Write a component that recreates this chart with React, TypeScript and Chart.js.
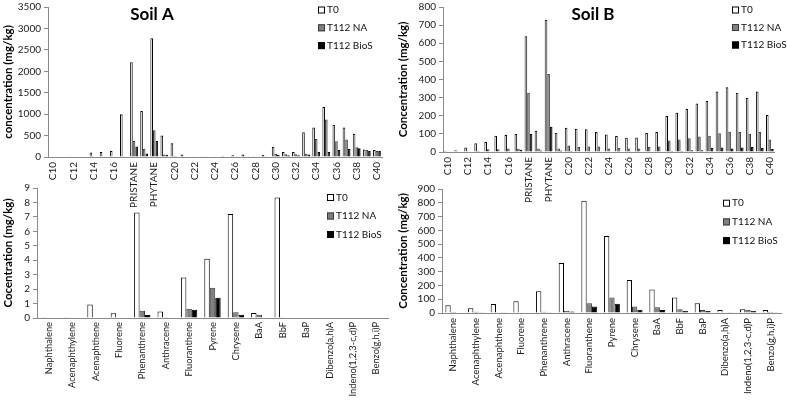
import React, { useRef, useEffect } from 'react';
import { Chart, registerables } from 'chart.js';

Chart.register(...registerables);

const FONT = 'Lato, "Noto Sans", sans-serif';

// n-alkanes + isoprenoids
const alkaneLabels = [
  'C10', 'C11', 'C12', 'C13', 'C14', 'C15', 'C16', 'C17', 'PRISTANE', 'C18', 'PHYTANE',
  'C19', 'C20', 'C21', 'C22', 'C23', 'C24', 'C25', 'C26', 'C27', 'C28', 'C29', 'C30',
  'C31', 'C32', 'C33', 'C34', 'C35', 'C36', 'C37', 'C38', 'C39', 'C40',
];

const soilA_T0 = [0, 0, 5, 5, 107, 115, 138, 997, 2210, 1074, 2770, 499, 322, 60, 20, 20, 10, 23, 38, 60, 15, 46, 240, 115, 115, 578, 690, 1167, 752, 690, 545, 177, 161];
const soilA_NA = [0, 0, 0, 0, 5, 5, 10, 20, 376, 192, 622, 61, 23, 10, 5, 5, 5, 10, 10, 10, 10, 20, 77, 62, 62, 77, 422, 875, 368, 407, 230, 161, 138];
const soilA_BioS = [0, 0, 0, 0, 0, 0, 0, 10, 245, 84, 376, 54, 15, 0, 0, 0, 0, 0, 5, 5, 5, 10, 54, 38, 38, 61, 115, 115, 161, 192, 207, 138, 138];

const soilB_T0 = [7, 10, 25, 48, 55, 90, 94, 100, 639, 117, 729, 106, 134, 128, 126, 110, 97, 88, 78, 80, 105, 110, 199, 217, 237, 267, 282, 334, 357, 327, 300, 334, 204];
const soilB_NA = [0, 0, 2, 5, 15, 15, 20, 18, 327, 20, 430, 20, 36, 27, 30, 30, 20, 23, 20, 20, 27, 30, 63, 69, 76, 85, 90, 103, 112, 110, 101, 110, 69];
const soilB_BioS = [0, 0, 0, 0, 0, 3, 3, 12, 99, 8, 140, 8, 5, 3, 3, 3, 3, 3, 3, 3, 3, 3, 5, 5, 9, 9, 23, 25, 20, 25, 27, 22, 16];

// PAHs
const pahLabels = [
  'Naphthalene', 'Acenaphthylene', 'Acenaphthene', 'Fluorene', 'Phenanthrene', 'Anthracene',
  'Fluoranthene', 'Pyrene', 'Chrysene', 'BaA', 'BbF', 'BaP', 'Dibenzo(a,h)A',
  'Indeno(1,2,3-c,d)P', 'Benzo(g,h,i)P',
];

const pahA_T0 = [0.05, 0.05, 0.93, 0.33, 7.3, 0.45, 2.8, 4.1, 7.2, 0.35, 8.35, 0.03, 0, 0, 0];
const pahA_NA = [0.03, 0, 0, 0, 0.5, 0.02, 0.64, 2.1, 0.4, 0.22, 0.02, 0, 0, 0, 0];
const pahA_BioS = [0, 0, 0, 0, 0.2, 0, 0.57, 1.4, 0.23, 0, 0, 0, 0, 0, 0];

const pahB_T0 = [57, 35, 66, 85, 158, 363, 814, 559, 240, 170, 113, 71, 21, 28, 21];
const pahB_NA = [7, 9, 3, 4, 9, 14, 71, 113, 47, 42, 28, 21, 3, 24, 9];
const pahB_BioS = [4, 2, 2, 4, 6, 10, 47, 68, 24, 21, 14, 14, 2, 14, 6];

const seriesNames = ['T0', 'T112 NA', 'T112 BioS'];
const seriesFill = ['#ffffff', '#808080', '#000000'];
const seriesLine = ['#000000', '#3a3a3a', '#000000'];

// draws the panel title and the little legend block inside the plot
const overlayPlugin = {
  id: 'overlay',
  afterDraw(chart: any, _args: any, opts: any) {
    const { ctx } = chart;
    ctx.save();
    if (opts.title) {
      ctx.font = `bold 17px ${FONT}`;
      ctx.fillStyle = '#000';
      ctx.textAlign = 'center';
      ctx.textBaseline = 'alphabetic';
      ctx.fillText(opts.title, opts.titleX, opts.titleY);
    }
    chart.data.datasets.forEach((ds: any, i: number) => {
      const y = opts.legendY + i * opts.legendGap;
      const x = opts.legendX;
      ctx.fillStyle = ds.backgroundColor;
      ctx.fillRect(x, y - 3, 7, 7);
      ctx.strokeStyle = ds.borderColor;
      ctx.lineWidth = 1;
      ctx.strokeRect(x + 0.5, y - 2.5, 6, 6);
      ctx.fillStyle = '#111';
      ctx.font = `10px ${FONT}`;
      ctx.textAlign = 'left';
      ctx.textBaseline = 'middle';
      ctx.fillText(ds.label, x + 9, y + 0.5);
    });
    ctx.restore();
  },
};

interface PanelProps {
  labels: string[];
  values: number[][];
  yMax: number;
  yStep: number;
  yTitle: string;
  yWidth: number;
  xHeight: number;
  padRight: number;
  everyOther: boolean;
  catPct: number;
  labelSize: number;
  labelPad: number;
  overlay: any;
}

const Panel: React.FC<PanelProps> = (p) => {
  const chartRef = useRef<HTMLCanvasElement>(null);
  const chartInstance = useRef<Chart | null>(null);

  useEffect(() => {
    if (!chartRef.current) return;
    if (chartInstance.current) chartInstance.current.destroy();

    chartInstance.current = new Chart(chartRef.current, {
      type: 'bar',
      data: {
        labels: p.labels,
        datasets: p.values.map((vals, i) => ({
          label: seriesNames[i],
          data: vals,
          backgroundColor: seriesFill[i],
          borderColor: seriesLine[i],
          borderWidth: 1,
          categoryPercentage: p.catPct,
          barPercentage: 1.0,
        })),
      },
      options: {
        responsive: true,
        maintainAspectRatio: false,
        animation: false,
        layout: { padding: { top: 0, right: p.padRight, bottom: 0, left: 0 } },
        plugins: {
          legend: { display: false },
          tooltip: { enabled: false },
          overlay: p.overlay,
        } as any,
        scales: {
          x: {
            grid: { display: false, drawTicks: false },
            border: { display: true, color: '#8a8a8a' },
            ticks: {
              autoSkip: false,
              maxRotation: 90,
              minRotation: 90,
              padding: p.labelPad,
              color: '#1a1a1a',
              font: { family: FONT, size: p.labelSize },
              callback: (_v: any, i: number) =>
                p.everyOther && i % 2 === 1 ? '' : p.labels[i],
            },
            afterFit: (s: any) => {
              s.height = p.xHeight;
            },
          },
          y: {
            min: 0,
            max: p.yMax,
            grid: {
              display: true,
              drawOnChartArea: false,
              drawTicks: true,
              tickLength: 4,
              color: '#8a8a8a',
            },
            border: { display: true, color: '#8a8a8a' },
            ticks: {
              stepSize: p.yStep,
              autoSkip: false,
              padding: 3,
              color: '#1a1a1a',
              font: { family: FONT, size: 10 },
              callback: (v: any) => String(v),
            },
            title: {
              display: true,
              text: p.yTitle,
              color: '#000',
              font: { family: FONT, size: 11.5, weight: 'bold' },
              padding: { top: 1, bottom: 0 },
            },
            afterFit: (s: any) => {
              s.width = p.yWidth;
            },
          },
        },
      },
      plugins: [overlayPlugin],
    });

    return () => {
      if (chartInstance.current) {
        chartInstance.current.destroy();
        chartInstance.current = null;
      }
    };
  }, [p]);

  return <canvas ref={chartRef} />;
};

const box = (left: number, top: number, width: number, height: number): React.CSSProperties => ({
  position: 'absolute',
  left,
  top,
  width,
  height,
});

const App: React.FC = () => {
  return (
    <div
      style={{
        position: 'fixed',
        left: 0,
        top: 0,
        width: 787,
        height: 402,
        background: '#fff',
        overflow: 'hidden',
      }}
    >
      <div style={box(0, -2, 395, 240)}>
        <Panel
          labels={alkaneLabels}
          values={[soilA_T0, soilA_NA, soilA_BioS]}
          yMax={3500}
          yStep={500}
          yTitle="concentration (mg/kg)"
          yWidth={48}
          xHeight={81}
          padRight={13}
          everyOther
          catPct={0.77}
          labelSize={10}
          labelPad={5}
          overlay={{ title: 'Soil A', titleX: 152, titleY: 22, legendX: 318, legendY: 11.5, legendGap: 17.8 }}
        />
      </div>
      <div style={box(395, -2, 392, 240)}>
        <Panel
          labels={alkaneLabels}
          values={[soilB_T0, soilB_NA, soilB_BioS]}
          yMax={800}
          yStep={100}
          yTitle="Concentration (mg/kg)"
          yWidth={48}
          xHeight={86}
          padRight={10}
          everyOther
          catPct={0.77}
          labelSize={10}
          labelPad={5}
          overlay={{ title: 'Soil B', titleX: 198, titleY: 22, legendX: 337, legendY: 11.5, legendGap: 17.5 }}
        />
      </div>
      <div style={box(0, 179, 395, 223)}>
        <Panel
          labels={pahLabels}
          values={[pahA_T0, pahA_NA, pahA_BioS]}
          yMax={9}
          yStep={1}
          yTitle="Cocentration (mg/kg)"
          yWidth={37}
          xHeight={84}
          padRight={7}
          everyOther={false}
          catPct={0.7}
          labelSize={9.3}
          labelPad={4}
          overlay={{ legendX: 327, legendY: 18, legendGap: 18.5 }}
        />
      </div>
      <div style={box(395, 180, 392, 222)}>
        <Panel
          labels={pahLabels}
          values={[pahB_T0, pahB_NA, pahB_BioS]}
          yMax={900}
          yStep={100}
          yTitle="Concentration (mg/kg)"
          yWidth={47}
          xHeight={89}
          padRight={0}
          everyOther={false}
          catPct={0.7}
          labelSize={9.5}
          labelPad={5}
          overlay={{ legendX: 328, legendY: 22.7, legendGap: 18.7 }}
        />
      </div>
    </div>
  );
};

export default App;
